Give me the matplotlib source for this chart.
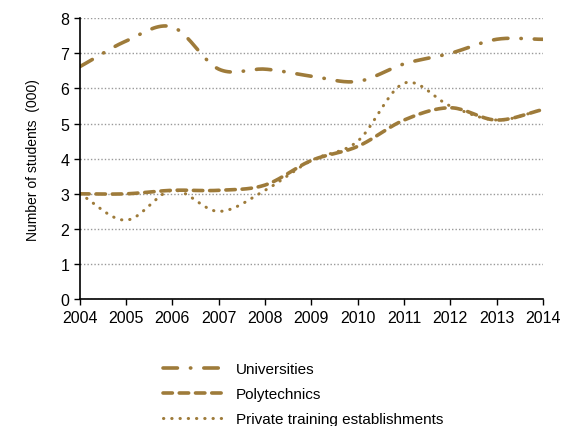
import matplotlib.pyplot as plt
import numpy as np

plt.rcParams['font.family'] = ['Liberation Sans', 'DejaVu Sans']

years = [2004, 2005, 2006, 2007, 2008, 2009, 2010, 2011, 2012, 2013, 2014]
universities = [6.62, 7.35, 7.75, 6.55, 6.55, 6.35, 6.2, 6.7, 7.0, 7.4, 7.4]
polytechnics = [3.0, 3.0, 3.1, 3.1, 3.25, 3.95, 4.35, 5.1, 5.45, 5.1, 5.4]
private = [3.0, 2.25, 3.1, 2.5, 3.1, 3.95, 4.5, 6.15, 5.5, 5.1, 5.4]

color = '#9E7B3A'


def smooth(x, y, n=20):
    # catmull-rom like excel "smoothed line"
    x = np.asarray(x, float)
    y = np.asarray(y, float)
    px = np.concatenate([[2 * x[0] - x[1]], x, [2 * x[-1] - x[-2]]])
    py = np.concatenate([[2 * y[0] - y[1]], y, [2 * y[-1] - y[-2]]])
    xs, ys = [], []
    for i in range(1, len(px) - 2):
        t = np.linspace(0, 1, n, endpoint=False)
        for arr, out in ((px, xs), (py, ys)):
            p0, p1, p2, p3 = arr[i - 1], arr[i], arr[i + 1], arr[i + 2]
            out.extend(0.5 * ((2 * p1) + (-p0 + p2) * t
                              + (2 * p0 - 5 * p1 + 4 * p2 - p3) * t ** 2
                              + (-p0 + 3 * p1 - 3 * p2 + p3) * t ** 3))
    xs.append(x[-1])
    ys.append(y[-1])
    return xs, ys


fig = plt.figure(figsize=(5.74, 4.27), dpi=100)
ax = fig.add_axes([0.139, 0.297, 0.807, 0.658])

ax.plot(*smooth(years, universities), color=color, lw=2.6,
        dashes=(4, 3.6, 0.1, 3.6), dash_capstyle='round', label='Universities')
ax.plot(*smooth(years, polytechnics), color=color, lw=2.6,
        dashes=(2.6, 1.9), dash_capstyle='round', label='Polytechnics')
ax.plot(*smooth(years, private), color=color, lw=2.2,
        dashes=(0.1, 2.6), dash_capstyle='round',
        label='Private training establishments')

ax.set_xlim(2004, 2014)
ax.set_ylim(0, 8)
ax.set_xticks(years)
ax.set_yticks(range(0, 9))
ax.yaxis.grid(True, linestyle=(0, (1, 1.5)), color='#999999', lw=1)
ax.set_axisbelow(True)
for s in ['top', 'right']:
    ax.spines[s].set_visible(False)
ax.spines['left'].set_linewidth(1.2)
ax.spines['bottom'].set_linewidth(1.2)
ax.tick_params(axis='both', labelsize=11.5, length=4, width=1)
ax.set_ylabel('Number of students  (000)', fontsize=10, labelpad=15)

fig.legend(loc='upper left', bbox_to_anchor=(0.284, 0.15), frameon=False,
           fontsize=11, handlelength=4.25, handletextpad=0.5,
           labelspacing=0.72, borderpad=0, borderaxespad=0)

fig.savefig('out.png', dpi=100)
